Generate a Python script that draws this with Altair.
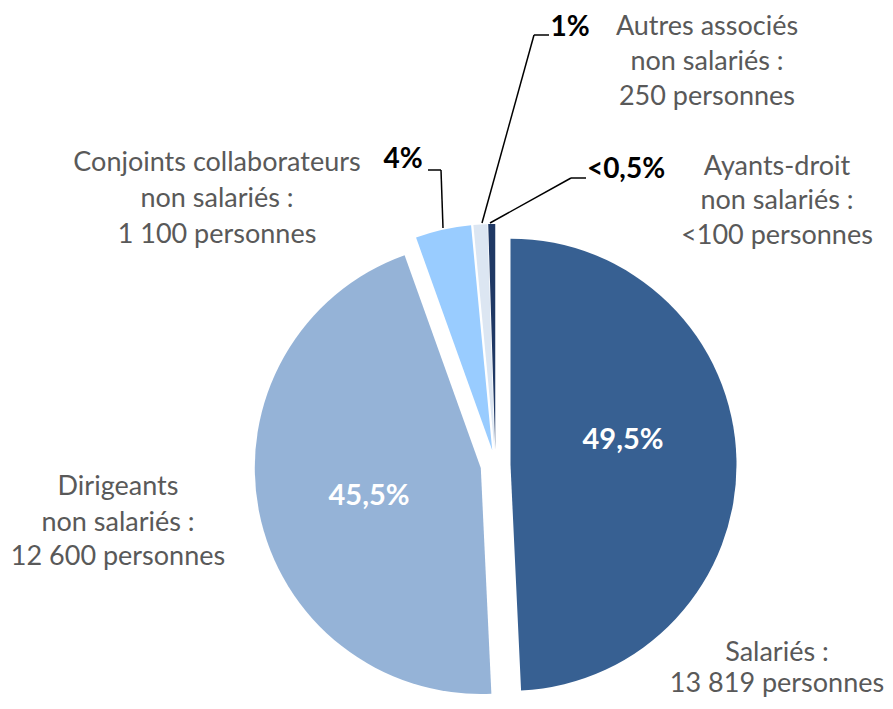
import altair as alt
import pandas as pd

# ---- data ----
categories = ["Salariés", "Dirigeants non salariés", "Conjoints collaborateurs non salariés",
              "Autres associés non salariés", "Ayants-droit non salariés"]
shares = [49.5, 45.5, 4.0, 1.0, 0.5]
share_labels = ["49,5%", "45,5%", "4%", "1%", "<0,5%"]
count_labels = ["13 819 personnes", "12 600 personnes", "1 100 personnes", "250 personnes", "<100 personnes"]
colors = ["#376092", "#95B3D7", "#99CCFF", "#DCE6F2", "#1F3864"]

# ---- layout (pixels, chart coordinates) ----
W, H = 877, 693
CX, CY = 487.5, 457.0
R = 226
EXPLODE = 15

pie_df = pd.DataFrame({"cat": categories, "value": shares, "order": list(range(len(categories)))})

pie = alt.Chart(pie_df).transform_joinaggregate(
    total="sum(value)"
).transform_window(
    cum="sum(value)", sort=[alt.SortField("order")], frame=[None, 0]
).transform_calculate(
    t1="2*PI*datum.cum/datum.total",
    t0="2*PI*(datum.cum-datum.value)/datum.total",
).transform_calculate(
    mid="(datum.t0+datum.t1)/2"
).transform_calculate(
    px=f"{CX}+{EXPLODE}*sin(datum.mid)",
    py=f"{CY}-{EXPLODE}*cos(datum.mid)",
).mark_arc(outerRadius=R).encode(
    theta=alt.Theta("t0:Q", scale=None),
    theta2="t1:Q",
    x=alt.X("px:Q", scale=None),
    y=alt.Y("py:Q", scale=None),
    color=alt.Color("cat:N", scale=alt.Scale(domain=categories, range=colors), legend=None),
)

# in-slice percentages
inner_df = pd.DataFrame({
    "t": share_labels[:2],
    "x": [615, 361],
    "y": [432, 488],
})
inner = alt.Chart(inner_df).mark_text(
    font="Lato", fontSize=29, fontWeight="bold", color="white", baseline="middle", align="center"
).encode(x=alt.X("x:Q", scale=None), y=alt.Y("y:Q", scale=None), text="t:N")

# outside percentages
outer_df = pd.DataFrame({
    "t": share_labels[2:],
    "x": [395, 562, 618],
    "y": [152, 20, 162],
})
outer = alt.Chart(outer_df).mark_text(
    font="Lato", fontSize=28, fontWeight="bold", color="black", baseline="middle", align="center"
).encode(x=alt.X("x:Q", scale=None), y=alt.Y("y:Q", scale=None), text="t:N")

# leader lines
lead_df = pd.DataFrame({
    "x": [420, 433, 526, 526, 563, 563],
    "y": [162, 162, 27, 27, 170, 170],
    "x2": [433, 435, 541, 474, 578, 482],
    "y2": [162, 220, 27, 215, 170, 215],
})
leaders = alt.Chart(lead_df).mark_rule(color="black", strokeWidth=1.5).encode(
    x=alt.X("x:Q", scale=None), y=alt.Y("y:Q", scale=None),
    x2="x2:Q", y2="y2:Q",
)

# category labels (one row per line)
cat_lines = [
    ("Salariés :", 769, 645), (count_labels[0], 769, 676),
    ("Dirigeants", 110, 479), ("non salariés :", 110, 515), (count_labels[1], 110, 549),
    ("Conjoints collaborateurs", 209, 155), ("non salariés :", 209, 191), (count_labels[2], 209, 227),
    ("Autres associés", 699, 19), ("non salariés :", 699, 54), (count_labels[3], 699, 89),
    ("Ayants-droit", 769, 159), ("non salariés :", 769, 193), (count_labels[4], 769, 228),
]
cat_df = pd.DataFrame(cat_lines, columns=["t", "x", "y"])
cats = alt.Chart(cat_df).mark_text(
    font="Lato", fontSize=27, color="#595959", baseline="middle", align="center"
).encode(x=alt.X("x:Q", scale=None), y=alt.Y("y:Q", scale=None), text="t:N")

chart = alt.layer(pie, leaders, inner, outer, cats).properties(
    width=W, height=H, padding=0, autosize=alt.AutoSizeParams(type="none")
).configure_view(stroke=None)

chart.save("out.html", embed_options={"renderer": "svg", "actions": False})
